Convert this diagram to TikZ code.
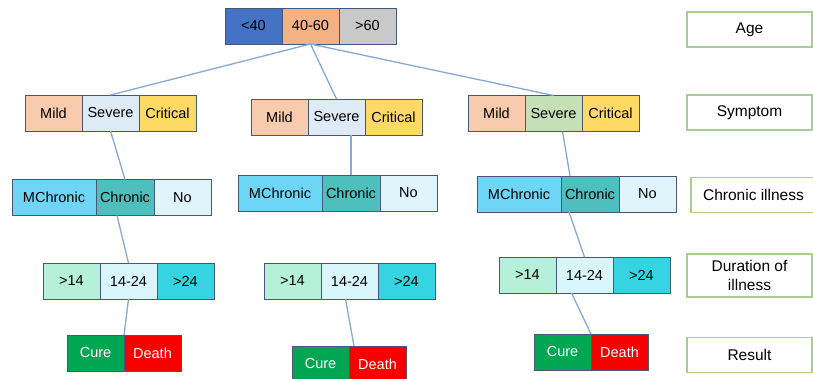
\documentclass[tikz,border=0pt]{standalone}
\usepackage{fontspec}
\setmainfont{Liberation Sans}
\usepackage{xcolor}
\usetikzlibrary{positioning}

\definecolor{cellline}{HTML}{46587A}
\definecolor{linkblue}{HTML}{86AAD6}
\definecolor{taggreen}{HTML}{A9CC90}
\definecolor{agelow}{HTML}{4472C4}
\definecolor{agemid}{HTML}{F4B183}
\definecolor{agehigh}{HTML}{C9C9C9}
\definecolor{mildc}{HTML}{F8CBAD}
\definecolor{sevblue}{HTML}{DEEAF6}
\definecolor{sevgreen}{HTML}{C5E0B4}
\definecolor{critc}{HTML}{FFD966}
\definecolor{mchron}{HTML}{6DD5F6}
\definecolor{chron}{HTML}{4DC0BE}
\definecolor{nochron}{HTML}{E0F4FC}
\definecolor{durlow}{HTML}{B4F0DA}
\definecolor{durmid}{HTML}{D8F6FC}
\definecolor{durhigh}{HTML}{36D3E2}
\definecolor{curec}{HTML}{00A651}
\definecolor{deathc}{HTML}{F80000}

\begin{document}
\begin{tikzpicture}[x=1pt, y=-1pt,
  cell/.style={draw=cellline, line width=1pt, outer sep=0pt, inner sep=0pt,
    minimum height=36pt, minimum width=57pt, font=\fontsize{14.5}{16}\selectfont},
  wide/.style={cell, minimum width=84pt},
  tag/.style={draw=taggreen, line width=1.2pt, outer sep=0pt, inner sep=0pt,
    minimum width=125pt, minimum height=35pt, align=center,
    font=\fontsize{15.5}{19.5}\selectfont},
  link/.style={linkblue, line width=1.3pt}]
  \fill[white] (0,0) rectangle (813,378);
  \useasboundingbox (0,0) rectangle (813,378);
  % Age row
  \node[cell, fill=agelow, anchor=west] (age1) at (225,26) {<40};
  \node[cell, fill=agemid, right=0pt of age1] (age2) {40-60};
  \node[cell, fill=agehigh, right=0pt of age2] (age3) {>60};
  % Symptom rows
  \foreach \g/\x/\y/\sev in {L/25/113/sevblue, M/251/117/sevblue, R/468/113.5/sevgreen} {
    \node[cell, fill=mildc, anchor=west] (sym\g1) at (\x,\y) {Mild};
    \node[cell, fill=\sev, right=0pt of sym\g1] (sym\g2) {Severe};
    \node[cell, fill=critc, right=0pt of sym\g2] (sym\g3) {Critical};
  }
  % Chronic illness rows
  \foreach \g/\x/\y in {L/12/197.5, M/238/193, R/477/194} {
    \node[wide, fill=mchron, anchor=west] (chr\g1) at (\x,\y) {MChronic};
    \node[cell, fill=chron, minimum width=58pt, right=0pt of chr\g1] (chr\g2) {Chronic};
    \node[cell, fill=nochron, right=0pt of chr\g2] (chr\g3) {No};
  }
  % Duration rows
  \foreach \g/\x/\y in {L/43/281, M/264/281, R/499/275} {
    \node[cell, fill=durlow, anchor=west] (dur\g1) at (\x,\y) {>14};
    \node[cell, fill=durmid, right=0pt of dur\g1] (dur\g2) {14-24};
    \node[cell, fill=durhigh, right=0pt of dur\g2] (dur\g3) {>24};
  }
  % Result rows
  \foreach \g/\x/\y in {L/67/353, M/292/364, R/534/352} {
    \node[cell, fill=curec, text=white, anchor=west] (res\g1) at (\x,\y) {Cure};
    \node[cell, fill=deathc, text=white, right=0pt of res\g1] (res\g2) {Death};
  }
  % Level labels
  \node[tag] (tagAge) at (749.5,29.5) {Age};
  \node[tag] (tagSym) at (749.5,112.5) {Symptom};
  \node[tag, anchor=west] (tagChr) at (691,195) {Chronic illness};
  \node[tag, minimum height=43pt] (tagDur) at (749.5,275.5) {Duration of\\illness};
  \node[tag] (tagRes) at (749.5,355) {Result};
  % Branches
  \draw[link] (age2.south) -- (symL2.north);
  \draw[link] (age2.south) -- (symM2.north);
  \draw[link] (age2.south) -- (symR2.north);
  \draw[link] (symL2.south) -- (chrL2.north);
  \draw[link] (chrM2.north |- symM2.south) -- (chrM2.north);
  \draw[link] ([xshift=9]symR2.south) -- ([xshift=-20]chrR2.north);
  \draw[link] ([xshift=-8]chrL2.south) -- (durL2.north);
  \draw[link] ([xshift=-21]chrR2.south) -- (durR2.north);
  \draw[link] (durL2.south) -- (resL2.north west);
  \draw[link] ([xshift=-4]durM2.south) -- ([xshift=5]resM2.north west);
  \draw[link] ([xshift=-13]durR2.south) -- (resR2.north west);
\end{tikzpicture}
\end{document}
